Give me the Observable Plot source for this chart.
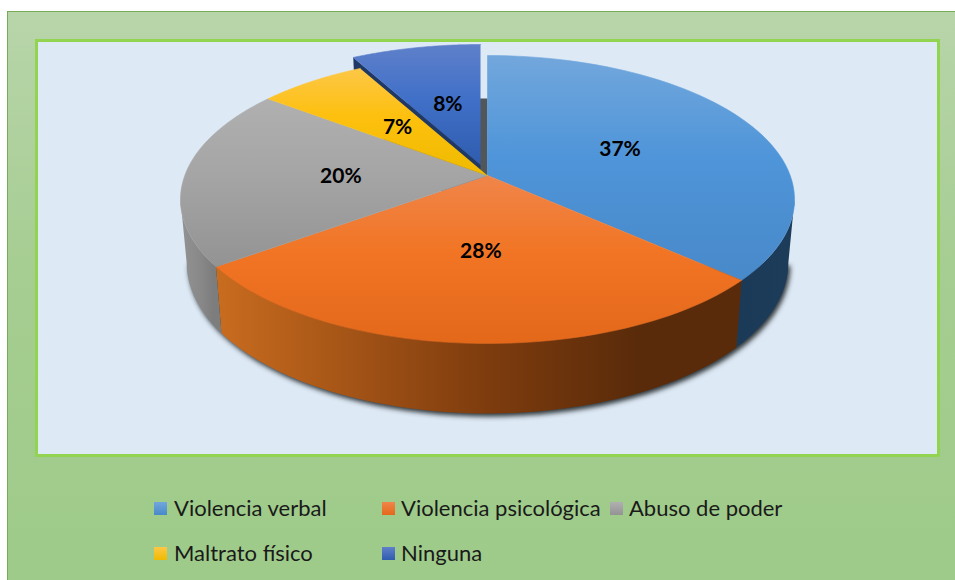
<!DOCTYPE html>
<html lang="es">
<head>
<meta charset="utf-8">
<script src="https://cdn.jsdelivr.net/npm/d3@7"></script>
<script src="https://cdn.jsdelivr.net/npm/@observablehq/plot@0.6"></script>
<style>
html,body{margin:0;padding:0;background:#fff;width:955px;height:580px;overflow:hidden}
#frame{position:absolute;left:7px;top:11px;width:948px;height:569px;box-sizing:border-box;border:1px solid #78aa58;border-bottom:none;border-right:none;background:linear-gradient(#b8d5aa,#a6cd92 45%,#9ecb89)}
#panel{position:absolute;left:35px;top:39px;width:905px;height:418px;box-sizing:border-box;border:3px solid #92d34f;background:#dde9f5}
#chart{position:absolute;left:37px;top:40px}
#chart svg{display:block;background:transparent;overflow:visible}
#legend span{position:absolute;font:22px Lato,sans-serif;color:#1a1a1a;white-space:nowrap;line-height:24px}
#legend i{position:absolute;width:13px;height:13px}
</style>
</head>
<body>
<div id="frame"></div>
<div id="panel"></div>
<div id="chart"></div>
<div id="legend"></div>
<script>
const categories = ["Violencia verbal", "Violencia psicológica", "Abuso de poder", "Maltrato físico", "Ninguna"];
const values = [36.6, 28.4, 20.3, 6.7, 8];
const labels = ["37%", "28%", "20%", "7%", "8%"];
const topLight = ["#72a7dc", "#f0854a", "#b0b0b0", "#fdc747", "#5f80ca"];
const topMid = ["#4f95d9", "#f17524", "#a5a5a5", "#fdc00e", "#4070c8"];
const topDark = ["#4889c9", "#e4681a", "#939393", "#efbb00", "#2f5cae"];
const wallStart = ["#1b3a57", "#c96c1f", "#939393", "#b58d00", "#1f3864"];
const wallMid = ["#1c3b58", "#803d0e", "#888888", "#b58d00", "#1f3864"];
const wallEnd = ["#1c3c5a", "#5a2b0a", "#7d7d7d", "#b58d00", "#1f3864"];
const legendRows = [[0, 166, 508], [1, 394, 508], [2, 622, 508], [3, 166, 553], [4, 394, 553]];

// Perspective of the tilted disc: hub, half-widths and foreshortening.
const hub = [487, 175], kx = 302.7, ky = 140, persp = 1 / 6, explode = 4;
const explodeOffset = [-7, -11];
const total = d3.sum(values);
const turn = t => 2 * Math.PI * t / total;
function topPoint(t, r = 1) {
  const X = r * Math.sin(turn(t)), Y = r * Math.cos(turn(t)), w = 1 + persp * Y;
  return [hub[0] + kx * X / w, hub[1] - ky * Y / w];
}
const lower = ([x, y]) => [hub[0] + (x - hub[0]) * 0.98, y + 62 + 8 * (y - hub[1]) / 168];
const shift = ([x, y], d) => [x + d[0], y + d[1]];
const arc = (a, b) => d3.range(0, 61).map(i => a + (b - a) * i / 60);
// The rim turns out of sight where the disc is widest on either side.
const rimFrom = Math.acos(-persp) / (2 * Math.PI) * total, rimTo = total - rimFrom;

const cum = d3.cumsum(values);
const slices = values.map((v, i) => ({i, start: cum[i] - v, end: cum[i], mid: cum[i] - v / 2}));

const toXY = pts => pts.map(p => ({x: p[0], y: p[1]}));
const wedge = s => {
  const d = s.i === explode ? explodeOffset : [0, 0];
  return toXY([hub, ...arc(s.start, s.end).map(t => topPoint(t))].map(p => shift(p, d)));
};
const wall = s => {
  const a = Math.max(s.start, rimFrom), b = Math.min(s.end, rimTo);
  return toXY([...arc(a, b).map(t => topPoint(t)), ...arc(b, a).map(t => lower(topPoint(t)))]);
};
const poly = (data, fill, extra = {}) => Plot.line(data, {x: "x", y: "y", fill, stroke: "none", curve: "linear", ...extra});

const ex = slices[explode];
const rest = slices.filter(s => s.i !== explode);
const cutFace = toXY([hub, topPoint(ex.start), lower(topPoint(ex.start)), lower(hub)].map(p => shift(p, explodeOffset)));
const gapShade = toXY([hub, ...arc(ex.start, ex.end).map(t => topPoint(t))].map(p => shift(p, [0, 43])));
const baseOutline = toXY(arc(rimFrom, rimTo).map(t => shift(lower(topPoint(t)), [2, 3])));

function defs() {
  const g = d3.create("svg:defs");
  g.append("filter").attr("id", "soft").attr("x", "-5%").attr("y", "-5%").attr("width", "110%").attr("height", "110%")
    .append("feGaussianBlur").attr("stdDeviation", 2.5);
  slices.forEach(s => {
    const top = g.append("linearGradient").attr("id", `top${s.i}`).attr("x1", 0).attr("y1", 0).attr("x2", 0).attr("y2", 1);
    top.append("stop").attr("offset", 0).attr("stop-color", topLight[s.i]);
    top.append("stop").attr("offset", 0.45).attr("stop-color", topMid[s.i]);
    top.append("stop").attr("offset", 1).attr("stop-color", topDark[s.i]);
    const side = g.append("linearGradient").attr("id", `wall${s.i}`).attr("x1", 0).attr("y1", 0).attr("x2", 1).attr("y2", 0);
    side.append("stop").attr("offset", 0).attr("stop-color", wallStart[s.i]);
    side.append("stop").attr("offset", 0.5).attr("stop-color", wallMid[s.i]);
    side.append("stop").attr("offset", 0.8).attr("stop-color", wallEnd[s.i]);
  });
  return g.node();
}

const labelData = slices.map(s => {
  const p = topPoint(s.mid, 0.49);
  const q = s.i === explode ? shift(p, explodeOffset) : p;
  return {x: q[0] + 1.5, y: q[1] + 1, text: labels[s.i]};
});

const topFace = s => poly(wedge(s), `url(#top${s.i})`, {stroke: `url(#top${s.i})`, strokeWidth: 0.6});

const chart = Plot.plot({
  width: 901, height: 416, margin: 0,
  x: {domain: [37, 938], range: [0, 901], axis: null},
  y: {domain: [40, 456], range: [0, 416], axis: null},
  style: {background: "transparent"},
  marks: [
    defs,
    poly(baseOutline, "#2e3438"),
    poly(gapShade, "#50565a"),
    ...rest.filter(s => s.start < rimTo && s.end > rimFrom).map(s => poly(wall(s), `url(#wall${s.i})`)),
    poly(cutFace, "#1f3864"),
    topFace(ex),
    ...rest.map(topFace),
    Plot.text(labelData, {x: "x", y: "y", text: "text", fill: "#000", fontFamily: "Lato, sans-serif", fontWeight: 700, fontSize: 21, textAnchor: "middle"})
  ]
});
document.getElementById("chart").append(chart);
// The first drawn shape is the soft shadow under the pie.
chart.querySelector('g[aria-label="line"] path').setAttribute("filter", "url(#soft)");

const legend = d3.select("#legend");
legendRows.forEach(([i, x, y]) => {
  legend.append("i").style("left", `${x - 12}px`).style("top", `${y - 6}px`)
    .style("background", `linear-gradient(${topLight[i]},${topDark[i]})`);
  legend.append("span").style("left", `${x + (x === 166 ? 8 : 7)}px`).style("top", `${y - 12}px`).text(categories[i]);
});
</script>
</body>
</html>
